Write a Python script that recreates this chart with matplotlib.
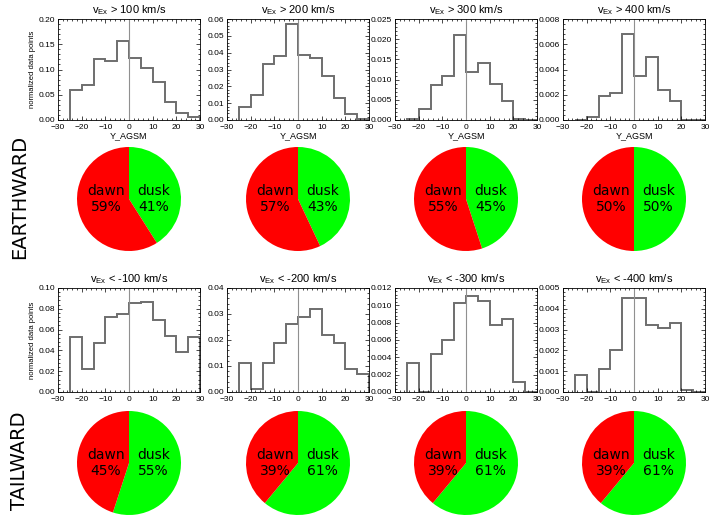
import matplotlib
matplotlib.use("Agg")
import matplotlib.pyplot as plt
import numpy as np
from matplotlib.ticker import MultipleLocator, AutoMinorLocator, FormatStrFormatter

# bin edges of Y_AGSM (Re)
edges = [-25, -20, -15, -10, -5, 0, 5, 10, 15, 20, 25, 30]

# earthward histograms
earth_100 = [0.060, 0.070, 0.120, 0.117, 0.156, 0.123, 0.103, 0.076, 0.036, 0.014, 0.005]
earth_200 = [0.008, 0.015, 0.0335, 0.038, 0.057, 0.0385, 0.037, 0.026, 0.013, 0.0035, 0.0008]
earth_300 = [0.0003, 0.0027, 0.0087, 0.011, 0.021, 0.012, 0.014, 0.009, 0.0047, 0.0003, 0.0]
earth_400 = [0.00003, 0.0002, 0.0019, 0.0021, 0.0068, 0.0035, 0.0050, 0.0024, 0.0015, 0.00003, 0.0]

# tailward histograms
tail_100 = [0.053, 0.022, 0.047, 0.072, 0.075, 0.086, 0.087, 0.069, 0.054, 0.038, 0.053]
tail_200 = [0.011, 0.001, 0.011, 0.019, 0.026, 0.029, 0.032, 0.022, 0.019, 0.009, 0.007]
tail_300 = [0.0033, 0.0, 0.0044, 0.0060, 0.0103, 0.0111, 0.0105, 0.0077, 0.0084, 0.0011, 0.0]
tail_400 = [0.0008, 0.0, 0.0011, 0.0020, 0.0045, 0.0045, 0.0032, 0.0031, 0.0033, 0.0001, 0.0]

earth_titles = ["> 100 km/s", "> 200 km/s", "> 300 km/s", "> 400 km/s"]
tail_titles = ["< -100 km/s", "< -200 km/s", "< -300 km/s", "< -400 km/s"]

earth_ymax = [0.20, 0.06, 0.025, 0.008]
earth_ystep = [0.05, 0.01, 0.005, 0.002]
tail_ymax = [0.10, 0.04, 0.012, 0.005]
tail_ystep = [0.02, 0.01, 0.002, 0.001]

# dawn / dusk percentages
earth_dawn = [59, 57, 55, 50]
tail_dawn = [45, 39, 39, 39]

W, H = 709, 519
fig = plt.figure(figsize=(W / 100, H / 100), dpi=100)

col_left = [58, 227, 395, 563]
col_w = 142
tick_font = "Liberation Sans"


def px_axes(x0, y0, x1, y1):
    return fig.add_axes([x0 / W, 1 - y1 / H, (x1 - x0) / W, (y1 - y0) / H])


def draw_hist(ax, vals, ymax, ystep, title, fmt, first):
    ax.stairs(vals, edges, baseline=0, color="#6e6e6e", lw=1.4)
    ax.axvline(0, color="#909090", lw=0.8)
    ax.set_xlim(-30, 30)
    ax.set_ylim(0, ymax)
    ax.xaxis.set_major_locator(MultipleLocator(10))
    ax.yaxis.set_major_locator(MultipleLocator(ystep))
    ax.xaxis.set_minor_locator(AutoMinorLocator(5))
    ax.yaxis.set_minor_locator(AutoMinorLocator(5))
    ax.yaxis.set_major_formatter(FormatStrFormatter(fmt))
    ax.tick_params(which="both", direction="in", top=True, right=True, labelsize=6)
    ax.tick_params(axis="x", pad=3)
    ax.tick_params(axis="y", pad=2)
    ax.tick_params(which="major", length=3, width=0.5)
    ax.tick_params(which="minor", length=1.5, width=0.5)
    for lab in ax.get_xticklabels() + ax.get_yticklabels():
        lab.set_fontfamily(tick_font)
    for s in ax.spines.values():
        s.set_linewidth(0.6)
    ax.set_title(r"v$_{\mathregular{Ex}}$ " + title, fontsize=8, family=tick_font, pad=4)
    if first:
        ax.set_ylabel("normalized data points", fontsize=5.5, family=tick_font, labelpad=2)


def draw_pie(cx, cy, dawn):
    r = 52
    ax = px_axes(cx - r, cy - r, cx + r, cy + r)
    ax.pie([100 - dawn, dawn], colors=["#00ff00", "#ff0000"], startangle=90,
           counterclock=False, radius=1.0)
    ax.set_xlim(-1, 1)
    ax.set_ylim(-1, 1)
    ax.set_aspect("equal")
    ax.text(-0.44, 0.0, f"dawn\n{dawn}%", ha="center", va="center", fontsize=10,
            family="DejaVu Sans", linespacing=1.15)
    ax.text(0.47, 0.0, f"dusk\n{100 - dawn}%", ha="center", va="center", fontsize=10,
            family="DejaVu Sans", linespacing=1.15)


earth_vals = [earth_100, earth_200, earth_300, earth_400]
tail_vals = [tail_100, tail_200, tail_300, tail_400]
fmts = ["%.2f", "%.2f", "%.3f", "%.3f"]
tail_fmts = ["%.2f", "%.2f", "%.3f", "%.3f"]

for i in range(4):
    x0 = col_left[i]
    ax = px_axes(x0, 19, x0 + col_w, 120)
    draw_hist(ax, earth_vals[i], earth_ymax[i], earth_ystep[i], earth_titles[i], fmts[i], i == 0)
    ax.set_xlabel("Y_AGSM", fontsize=6.5, family=tick_font, labelpad=0)

    ax = px_axes(x0, 288, x0 + col_w, 392)
    draw_hist(ax, tail_vals[i], tail_ymax[i], tail_ystep[i], tail_titles[i], tail_fmts[i], i == 0)

    cx = x0 + col_w / 2
    draw_pie(cx, 199, earth_dawn[i])
    draw_pie(cx, 463, tail_dawn[i])

fig.text(20 / W, 1 - 197 / H, "EARTHWARD", rotation=90, ha="center", va="center",
         fontsize=14, family="DejaVu Sans")
fig.text(20 / W, 1 - 461 / H, "TAILWARD", rotation=90, ha="center", va="center",
         fontsize=14, family="DejaVu Sans")

fig.savefig("out.png", dpi=100)
